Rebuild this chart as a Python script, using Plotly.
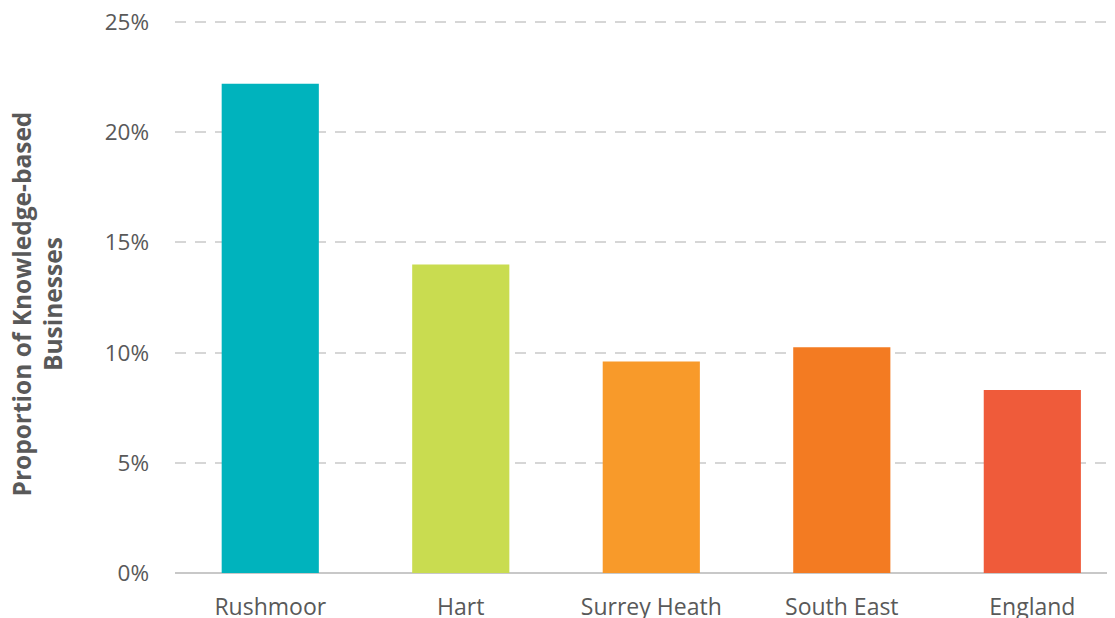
import plotly.graph_objects as go

categories = ["Rushmoor", "Hart", "Surrey Heath", "South East", "England"]
values = [22.2, 14.0, 9.6, 10.25, 8.3]
colors = ["#00B3BD", "#C9DC50", "#F89A2A", "#F37B22", "#EF5B3A"]
y_ticks = [0, 5, 10, 15, 20, 25]
y_tick_labels = ["0%", "5%", "10%", "15%", "20%", "25%"]
y_title = "Proportion of Knowledge-based<br>Businesses"

text_color = "#595959"
font_family = "Open Sans"

fig = go.Figure()
fig.add_trace(go.Bar(
    x=categories,
    y=values,
    marker=dict(color=colors, line=dict(width=0)),
    width=0.51,
    hoverinfo="x+y",
))

fig.add_annotation(
    text="<b>" + y_title + "</b>",
    xref="paper", yref="paper",
    x=0, y=0.5,
    xanchor="right", yanchor="middle",
    xshift=-104, yshift=-7,
    textangle=-90,
    showarrow=False,
    font=dict(size=24.5, color=text_color, family=font_family),
)

fig.update_layout(
    width=1107,
    height=610,
    margin=dict(l=167, r=0, t=13, b=45, autoexpand=False),
    paper_bgcolor="white",
    plot_bgcolor="white",
    showlegend=False,
    font=dict(family=font_family, color=text_color, size=22),
    xaxis=dict(
        range=[-0.5, 4.434],
        automargin=False,
        showgrid=False,
        showline=False,
        zeroline=False,
        ticks="",
        tickfont=dict(size=23, color=text_color),
        ticklabelstandoff=18,
        ticklabeloverflow="allow",
    ),
    yaxis=dict(
        range=[0, 25.05],
        automargin=False,
        tickvals=y_ticks,
        ticktext=y_tick_labels,
        showgrid=True,
        gridcolor="#D6D6D6",
        griddash="11px,9px",
        gridwidth=1.6,
        zeroline=True,
        zerolinecolor="#C8C8C8",
        zerolinewidth=2,
        showline=False,
        ticks="",
        ticklabelstandoff=25,
        ticklabeloverflow="allow",
        tickfont=dict(size=22.5, color=text_color),
    ),
)

fig.write_html("out.html")
